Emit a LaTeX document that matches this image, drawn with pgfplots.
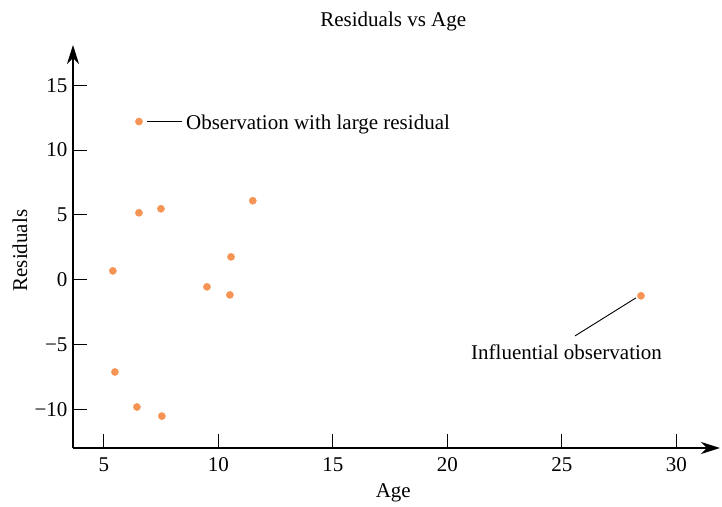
\documentclass[border=0pt]{standalone}
\usepackage{pgfplots}
\pgfplotsset{compat=1.18}
\usepackage{fontspec}
\setmainfont{Liberation Serif}
\usetikzlibrary{arrows.meta}
\definecolor{dotorange}{RGB}{245,148,84}

\pgfplotstableread{
age   resid
6.53  12.2
6.53  5.17
7.49  5.48
11.5  6.1
5.39  0.69
10.55 1.77
9.5   -0.54
10.5  -1.16
5.48  -7.1
6.44  -9.8
7.53  -10.5
28.45 -1.23
}\residtable

\begin{document}
\begin{tikzpicture}
\begin{axis}[
  scale only axis,
  width=647pt, height=403pt,
  xmin=3.65, xmax=31.9,
  ymin=-12.96, ymax=18.1,
  axis lines=left,
  axis line style={line width=1.8pt, -{Stealth[length=19pt,width=12pt,inset=6pt]}},
  tick style={line width=1pt, black},
  major tick length=14pt,
  tick align=inside,
  xtick={5,10,15,20,25,30},
  ytick={-10,-5,0,5,10,15},
  yticklabels={−10,−5,0,5,10,15},
  xticklabels={5,10,15,20,25,30},
  font=\fontsize{21}{24}\selectfont,
  tick label style={font=\fontsize{21}{24}\selectfont},
  xticklabel style={yshift=-6pt},
  yticklabel style={xshift=-2pt},
  title={Residuals vs Age},
  title style={at={(axis description cs:0.495,1)}, anchor=center, yshift=18pt},
  xlabel={Age},
  xlabel style={at={(axis description cs:0.495,0)}, anchor=center, yshift=-45pt},
  ylabel={Residuals},
  ylabel style={at={(axis description cs:0,0.49)}, anchor=center, yshift=53pt},
  clip=false,
]
\addplot[only marks, mark=*, mark size=3.6pt, color=dotorange,
  mark options={draw=none, fill=dotorange}] table[x=age, y=resid] {\residtable};
\draw[line width=0.9pt] (axis cs:6.88,12.2) -- (axis cs:8.4,12.2);
\node[anchor=west, inner sep=0pt, yshift=-3pt] at (axis cs:8.58,12.2) {Observation with large residual};
\draw[line width=0.9pt] (axis cs:28.23,-1.39) -- (axis cs:25.57,-4.32);
\node[anchor=center, inner sep=0pt] at (axis cs:25.2,-5.56) {Influential observation};
\end{axis}
\path (current axis.south west) ++(-73pt,-58pt) coordinate (bl);
\path (current axis.north east) ++(2pt,45pt) coordinate (tr);
\path (bl) rectangle (tr);
\end{tikzpicture}
\end{document}
